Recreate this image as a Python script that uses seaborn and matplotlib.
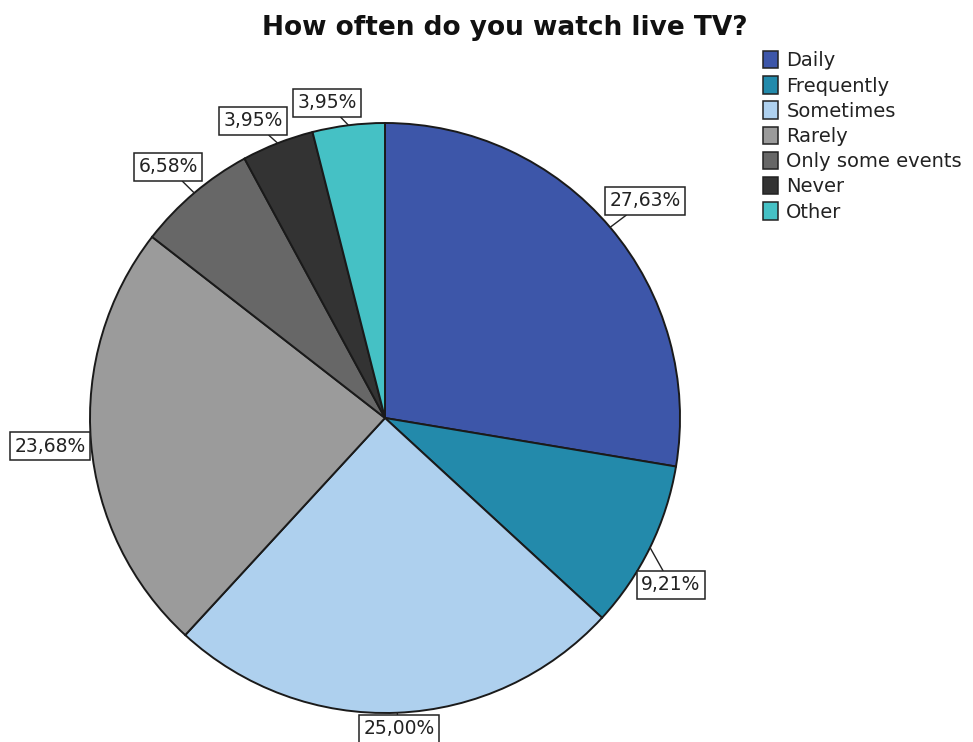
import numpy as np
import matplotlib
matplotlib.use("Agg")
import matplotlib.pyplot as plt
import seaborn as sns
from matplotlib.patches import Patch

categories = ["Daily", "Frequently", "Sometimes", "Rarely", "Only some events", "Never", "Other"]
shares = [27.63, 9.21, 25.00, 23.68, 6.58, 3.95, 3.95]
labels = ["27,63%", "9,21%", "25,00%", "23,68%", "6,58%", "3,95%", "3,95%"]
colors = ["#3d56a9", "#238aab", "#aed0ee", "#9b9b9b", "#676767", "#333333", "#45c1c5"]

# label box centres in figure pixels (x from left, y from top)
label_pos = [(645, 201), (671, 585), (399, 729), (50, 446), (168, 167), (253, 121), (327, 103)]

sns.set_theme(style="white")
plt.rcParams["font.family"] = ["DejaVu Sans"]

W, H = 973, 742
fig = plt.figure(figsize=(W / 100, H / 100), dpi=100)
ax = fig.add_axes([0, 0, 1, 1])

cx, cy, r = 385, H - 418, 295
wedges, _ = ax.pie(shares, colors=colors, startangle=90, counterclock=False,
                   center=(cx, cy), radius=r, frame=True,
                   wedgeprops=dict(edgecolor="#1a1a1a", linewidth=1.4))
ax.set_xlim(0, W)
ax.set_ylim(0, H)
ax.set_aspect("equal")
ax.axis("off")

for w, lab, (lx, ly) in zip(wedges, labels, label_pos):
    mid = np.deg2rad((w.theta1 + w.theta2) / 2)
    ex, ey = cx + r * np.cos(mid), cy + r * np.sin(mid)
    ax.annotate(lab, xy=(ex, ey), xytext=(lx, H - ly), ha="center", va="center",
                fontsize=13.5, color="#222222",
                bbox=dict(boxstyle="square,pad=0.22", fc="white", ec="#222222", lw=1.1),
                arrowprops=dict(arrowstyle="-", color="#222222", lw=1.0,
                                shrinkA=0, shrinkB=0),
                annotation_clip=False)

fig.text(505 / W, 1 - 28 / H, "How often do you watch live TV?", ha="center", va="center",
         fontsize=19, fontweight="bold", color="#111111")

handles = [Patch(facecolor=c, edgecolor="#222222", linewidth=1.1) for c in colors]
leg = ax.legend(handles, categories, loc="upper left", bbox_to_anchor=(763 / W, 1 - 51 / H),
                bbox_transform=fig.transFigure, frameon=False, fontsize=14,
                handlelength=0.75, handleheight=1.0, handletextpad=0.45,
                labelspacing=0.3, borderpad=0, borderaxespad=0)
for t in leg.get_texts():
    t.set_color("#222222")

fig.savefig("out.png", dpi=100, facecolor="white")
